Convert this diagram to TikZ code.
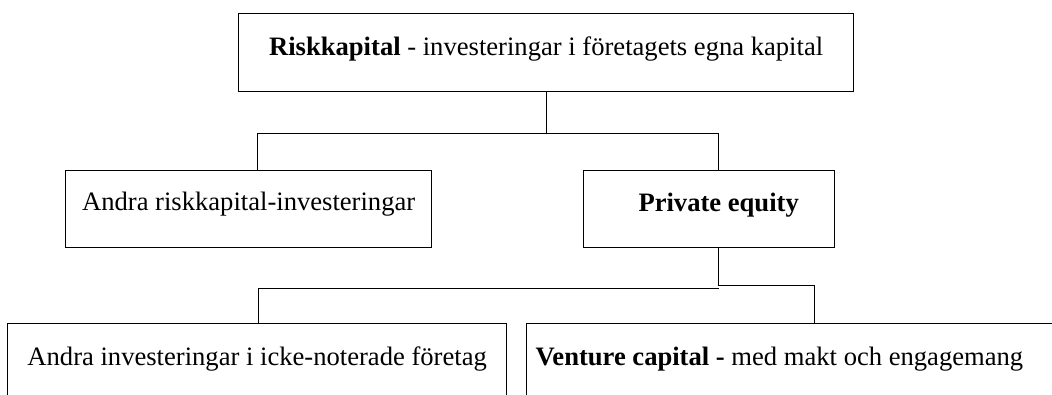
\documentclass[tikz,border=0pt]{standalone}
\usepackage{fontspec}
\setmainfont{Liberation Serif}

\begin{document}
\begin{tikzpicture}[x=1pt, y=-1pt, line width=1pt, draw=black,
    box/.style={draw, line width=1.3pt, rectangle, inner sep=0pt, anchor=north west,
      font=\fontsize{26.6}{30}\selectfont}]
        \clip (0,0) rectangle (1052,394);
        \node[box, minimum width=615pt, text height=42pt, text depth=36pt] (rk) at (238,13)
          {\textbf{Riskkapital} - investeringar i företagets egna kapital};
        \node[box, minimum width=366pt, text height=40pt, text depth=37pt] (ar) at (65,170)
          {Andra riskkapital-investeringar};
        \node[box, minimum width=251pt, text height=41pt, text depth=36pt] (pe) at (583,170)
          {\hspace*{19pt}\textbf{Private equity}};
        \node[box, minimum width=499pt, text height=42pt, text depth=60pt] (ai) at (7,323)
          {Andra investeringar i icke-noterade företag};
        \node[box, inner xsep=9pt, text width=530pt, align=flush left, text height=42pt, text depth=60pt] (vc) at (526,323)
          {\textbf{Venture capital -} med makt och engagemang};
        \draw (rk.south) -- ++(0,41) coordinate (j1);
        \draw ([xshift=9pt]ar.north) |- (j1) -| ([xshift=9.5pt]pe.north);
        \draw ([xshift=9.5pt]pe.south) -- ++(0,37) coordinate (j2) -| ([xshift=288pt]vc.north west);
        \draw ([yshift=-3pt]j2) -| ([xshift=1pt]ai.north);
      \end{tikzpicture}
\end{document}
